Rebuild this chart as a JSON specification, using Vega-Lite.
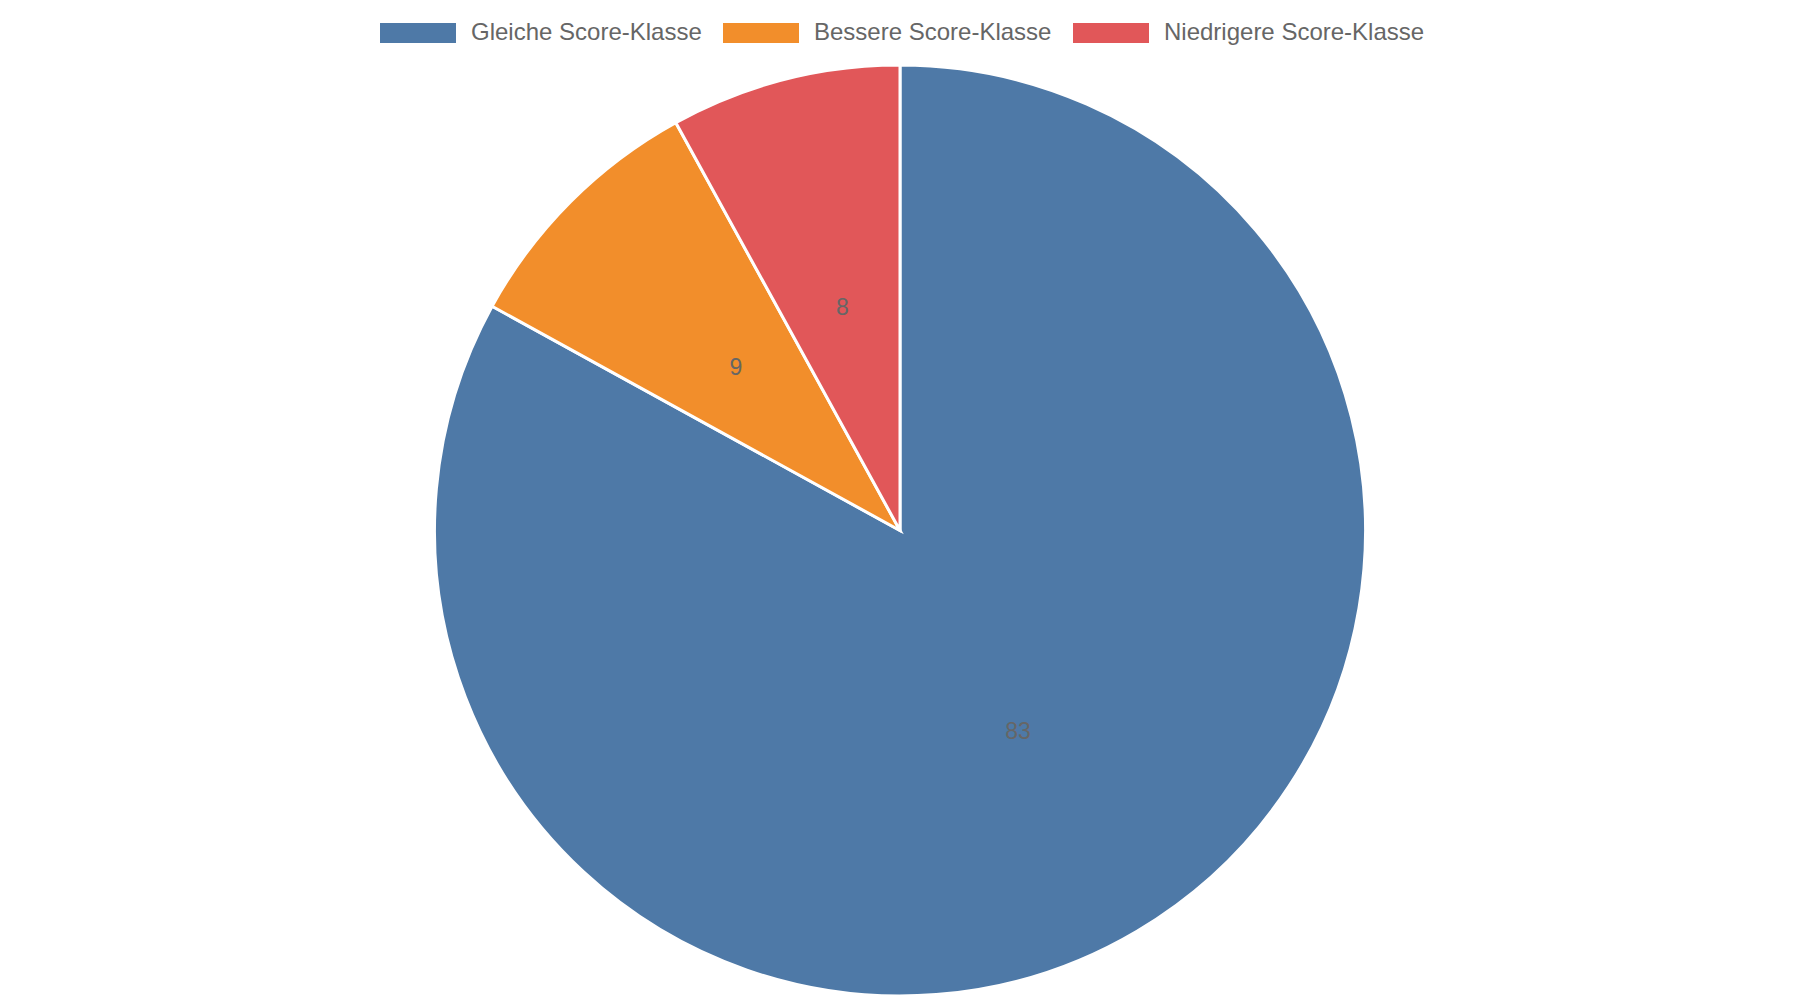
{
  "$schema": "https://vega.github.io/schema/vega-lite/v6.json",
  "autosize": "none",
  "width": 1800,
  "height": 931,
  "padding": {"top": 65, "left": 0, "right": 0, "bottom": 0},
  "background": "white",
  "config": {"view": {"stroke": null}, "font": "Liberation Sans"},
  "data": {
    "values": [
      {"Kategorie": "Gleiche Score-Klasse", "Anteil": 83},
      {"Kategorie": "Bessere Score-Klasse", "Anteil": 9},
      {"Kategorie": "Niedrigere Score-Klasse", "Anteil": 8}
    ]
  },
  "encoding": {
    "theta": {"field": "Anteil", "type": "quantitative", "stack": true},
    "order": {"field": "Anteil", "type": "quantitative", "sort": "descending"}
  },
  "layer": [
    {
      "mark": {"type": "arc", "stroke": "white", "strokeWidth": 3},
      "encoding": {
        "color": {
          "field": "Kategorie",
          "type": "nominal",
          "scale": {
            "domain": ["Gleiche Score-Klasse", "Bessere Score-Klasse", "Niedrigere Score-Klasse"],
            "range": ["#4e79a7", "#f28e2b", "#e15759"]
          },
          "legend": {
            "title": null,
            "orient": "none",
            "direction": "horizontal",
            "legendX": 380,
            "legendY": -70,
            "symbolType": "M-1,-0.26H1V0.26H-1Z",
            "symbolSize": 5776,
            "symbolStrokeWidth": 0,
            "symbolOpacity": 1,
            "labelOffset": 15,
            "columnPadding": 21,
            "labelFontSize": 24,
            "labelFont": "Liberation Sans",
            "labelColor": "#666666",
            "labelLimit": 600,
            "padding": 0
          }
        }
      }
    },
    {
      "mark": {"type": "text", "radius": 232, "fontSize": 23, "font": "Liberation Sans", "color": "#666666", "align": "center", "baseline": "middle", "dy": 2},
      "encoding": {
        "text": {"field": "Anteil", "type": "quantitative"}
      }
    }
  ]
}
